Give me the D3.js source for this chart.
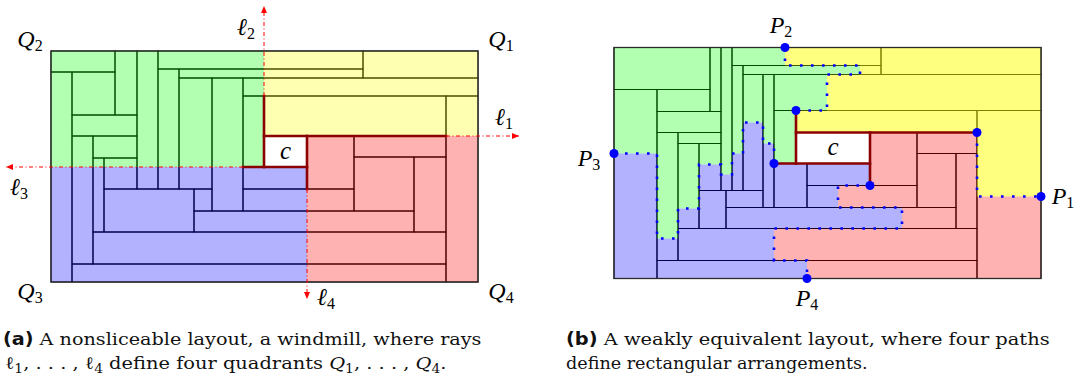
<!DOCTYPE html>
<html>
<head>
<meta charset="utf-8">
<script src="https://cdn.jsdelivr.net/npm/d3@7"></script>
<style>
  body { margin: 0; background: #fff; }
  svg { display: block; }
</style>
</head>
<body>
<svg width="1078" height="379"></svg>
<script>
// both layouts live in a 427 x 231 box, rectangles are [x0, y0, x1, y1]
const boxW = 427, boxH = 231;

// (a) the windmill
const rectsA = [
  [0,0,64,21], [0,21,21,231], [21,21,64,64], [64,0,86,64], [21,64,86,85],
  [86,0,107,138], [21,85,42,213], [42,85,86,107], [42,107,53,181], [53,107,86,138],
  [107,0,312,18], [312,0,427,27], [107,18,128,138], [128,18,312,27], [128,27,161,138],
  [161,27,192,160], [192,27,427,45], [192,45,213,116], [213,45,395,85], [395,45,427,231],
  [213,85,256,116], [192,116,256,138], [256,85,303,138], [303,85,395,106], [303,106,363,160],
  [363,106,395,181], [192,138,303,160], [53,138,143,181], [143,138,161,160], [143,160,363,181],
  [42,181,395,213], [21,213,395,231]
];
const centerA = [213,85,256,116];
const quadrantsA = [
  [[0,0],[213,0],[213,116],[0,116]],
  [[213,0],[427,0],[427,85],[213,85]],
  [[256,85],[427,85],[427,231],[256,231]],
  [[0,116],[256,116],[256,231],[0,231]]
];
const thickA = [
  [[213,45],[213,116]], [[213,85],[395,85]], [[256,85],[256,138]], [[192,116],[256,116]]
];
const raysA = [
  [[395,85],[468,85]],   // l1
  [[213,45],[213,-45]],  // l2
  [[192,116],[-45,116]], // l3
  [[256,138],[256,248]]  // l4
];

// (b) the weakly equivalent layout
const rectsB = [
  [0,0,96,42], [0,42,43,231], [43,42,96,64], [96,0,107,64], [43,64,107,85],
  [43,85,64,213], [64,85,107,96], [64,96,85,181], [85,96,107,143], [107,0,118,143],
  [118,0,267,18], [267,0,427,27], [118,18,129,143], [129,18,267,27], [129,27,149,143],
  [149,27,160,160], [160,27,427,63], [160,63,182,116], [182,85,256,116], [182,63,363,85],
  [363,63,427,231], [85,143,112,181], [112,143,149,160], [160,116,193,160], [193,116,256,138],
  [256,85,303,138], [303,85,363,106], [303,106,342,160], [342,106,363,181], [193,138,303,160],
  [112,160,342,181], [64,181,363,213], [43,213,363,231]
];
const centerB = [182,85,256,116];
const pathP1 = [[363,85],[363,149],[427,149]];
const pathP2 = [[171,0],[171,18],[246,18],[246,27],[213,27],[213,63],[182,63]];
const pathP3 = [[0,106],[43,106],[43,191],[64,191],[64,161],[85,161],[85,117],[107,117],
  [107,127],[118,127],[118,106],[129,106],[129,75],[149,75],[149,96],[160,96],[160,116]];
const pathP4 = [[256,138],[224,138],[224,160],[288,160],[288,181],[160,181],[160,213],[193,213],[193,231]];
const thickB = [
  [[182,63],[182,116]], [[182,85],[363,85]], [[256,85],[256,138]], [[160,116],[256,116]]
];
const regionsB = [
  [[0,0], ...pathP2, [182,116], ...pathP3.slice().reverse()],
  [[427,0], [427,149], [363,149], [363,85], [182,85], ...pathP2.slice().reverse()],
  [[256,85], ...pathP1, [427,231], ...pathP4.slice().reverse()],
  [...pathP3, [256,116], ...pathP4, [0,231]]
];

const quadColors = ['#00ff00', '#ffff00', '#ff0000', '#0000ff'];

const svg = d3.select('svg');

function drawLayout(xs, ys, rects, regions, regionOpacity, center, thick) {
  const g = svg.append('g');
  const line = d3.line().x(d => xs(d[0])).y(d => ys(d[1]));

  g.selectAll('rect.cell').data(rects).enter().append('rect')
    .attr('x', d => xs(d[0])).attr('y', d => ys(d[1]))
    .attr('width', d => xs(d[2]) - xs(d[0])).attr('height', d => ys(d[3]) - ys(d[1]))
    .attr('fill', 'none').attr('stroke', '#000').attr('stroke-width', 1);

  g.selectAll('path.region').data(regions).enter().append('path')
    .attr('d', d => line(d) + 'Z')
    .attr('fill', (d, i) => quadColors[i])
    .attr('fill-opacity', (d, i) => regionOpacity[i]);

  g.append('rect')
    .attr('x', xs(0)).attr('y', ys(0))
    .attr('width', xs(boxW) - xs(0)).attr('height', ys(boxH) - ys(0))
    .attr('fill', 'none').attr('stroke', '#2a2a2a').attr('stroke-width', 1.3);

  g.append('rect')
    .attr('x', xs(center[0])).attr('y', ys(center[1]))
    .attr('width', xs(center[2]) - xs(center[0])).attr('height', ys(center[3]) - ys(center[1]))
    .attr('fill', '#fff');

  g.selectAll('path.thick').data(thick).enter().append('path')
    .attr('d', line)
    .attr('stroke', '#8b0000').attr('stroke-width', 2.6).attr('fill', 'none')
    .attr('stroke-linecap', 'square');

  g.append('text')
    .attr('x', xs((center[0] + center[2]) / 2)).attr('y', ys((center[1] + center[3]) / 2) + 7)
    .attr('text-anchor', 'middle')
    .attr('font-family', 'Liberation Serif, DejaVu Serif').attr('font-style', 'italic')
    .attr('font-size', 25).text('c');
  return line;
}

// panel (a)
const xa = d3.scaleLinear().domain([0, boxW]).range([51, 478]);
const ya = d3.scaleLinear().domain([0, boxH]).range([51, 282]);
const lineA = drawLayout(xa, ya, rectsA, quadrantsA, [0.3, 0.3, 0.3, 0.3], centerA, thickA);

raysA.forEach(r => {
  svg.append('path').attr('d', lineA(r))
    .attr('stroke', '#ff0000').attr('stroke-width', 1).attr('fill', 'none')
    .attr('stroke-dasharray', '4 2.5 1 2.5');
  const [x1, y1] = [xa(r[1][0]), ya(r[1][1])];
  const ang = Math.atan2(ya(r[1][1]) - ya(r[0][1]), xa(r[1][0]) - xa(r[0][0])) * 180 / Math.PI;
  svg.append('path').attr('d', 'M0,0L-7,-3L-7,3Z')
    .attr('transform', `translate(${x1},${y1}) rotate(${ang})`)
    .attr('fill', '#ff0000');
});

// panel (b)
const xb = d3.scaleLinear().domain([0, boxW]).range([614, 1041]);
const yb = d3.scaleLinear().domain([0, boxH]).range([47.5, 278.5]);
const lineB = drawLayout(xb, yb, rectsB, regionsB, [0.3, 0.5, 0.3, 0.3], centerB, thickB);

[pathP1, pathP2, pathP3, pathP4].forEach(p => {
  svg.append('path').attr('d', lineB(p))
    .attr('stroke', '#0000ff').attr('stroke-width', 2.6).attr('fill', 'none')
    .attr('stroke-dasharray', '2.6 8.4');
  [p[0], p[p.length - 1]].forEach(pt => {
    svg.append('circle').attr('cx', xb(pt[0])).attr('cy', yb(pt[1]))
      .attr('r', 4.5).attr('fill', '#0000ff');
  });
});

// math labels
function mathLabel(x, y, base, sub) {
  const t = svg.append('text').attr('x', x).attr('y', y).attr('text-anchor', 'middle')
    .attr('font-family', 'Liberation Serif, DejaVu Serif').attr('font-size', 24);
  t.append('tspan').attr('font-style', 'italic').text(base);
  t.append('tspan').attr('font-size', 16).attr('dy', 4).text(sub);
}
mathLabel(30, 47, 'Q', '2');
mathLabel(501, 47, 'Q', '1');
mathLabel(30, 299, 'Q', '3');
mathLabel(501, 299, 'Q', '4');
mathLabel(246, 35, 'ℓ', '2');
mathLabel(504, 125, 'ℓ', '1');
mathLabel(19, 195, 'ℓ', '3');
mathLabel(326, 305, 'ℓ', '4');
mathLabel(781, 33, 'P', '2');
mathLabel(589, 166, 'P', '3');
mathLabel(1063, 204, 'P', '1');
mathLabel(807, 306, 'P', '4');

// captions, each line stretched to the width it has in the figure
const captionLines = [
  {x: 3, y: 345, w: 479, parts: [{t: '(a)', bold: true}, {t: ' A nonsliceable layout, a windmill, where rays'}]},
  {x: 5, y: 369, w: 442, parts: [
    {t: 'ℓ'}, {t: '1', sub: true}, {t: ', . . . , ', up: true}, {t: 'ℓ'}, {t: '4', sub: true},
    {t: ' define four quadrants ', up: true}, {t: 'Q', it: true}, {t: '1', sub: true},
    {t: ', . . . , ', up: true}, {t: 'Q', it: true}, {t: '4', sub: true}, {t: '.', up: true}]},
  {x: 566, y: 345, w: 484, parts: [{t: '(b)', bold: true}, {t: ' A weakly equivalent layout, where four paths'}]},
  {x: 566, y: 369, w: 302, parts: [{t: 'define rectangular arrangements.'}]}
];
captionLines.forEach(c => {
  const g = svg.append('g');
  const t = g.append('text').attr('x', 0).attr('y', 0)
    .attr('font-family', 'DejaVu Serif').attr('font-size', 17.5).attr('fill', '#111');
  c.parts.forEach(p => {
    const s = t.append('tspan').text(p.t);
    if (p.bold) s.attr('font-family', 'DejaVu Sans').attr('font-weight', 'bold');
    if (p.it) s.attr('font-style', 'italic');
    if (p.sub) s.attr('font-size', 12.5).attr('dy', 4);
    if (p.up) s.attr('dy', -4);
  });
  const k = c.w / t.node().getComputedTextLength();
  g.attr('transform', `translate(${c.x},${c.y}) scale(${k},1)`);
});
</script>
</body>
</html>
